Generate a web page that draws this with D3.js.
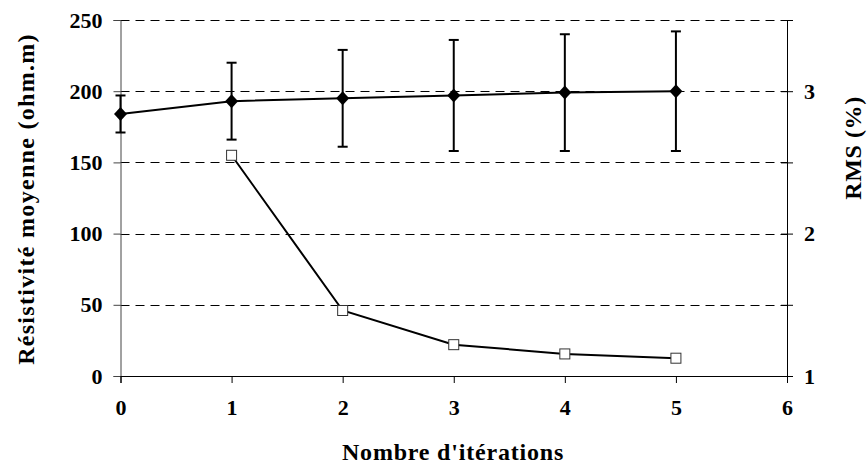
<!DOCTYPE html>
<html><head><meta charset="utf-8">
<script src="https://cdn.jsdelivr.net/npm/d3@7"></script>
<style>
html,body{margin:0;padding:0;background:#fff;}
svg text{font-family:"Liberation Serif","Times New Roman",serif;font-weight:bold;fill:#000;}
</style></head>
<body><svg id="c" width="868" height="468"></svg>
<script>
const iterations = [0, 1, 2, 3, 4, 5];
const resistivity = [184, 193, 195, 197, 199, 200];
const resError = [13, 27, 34, 39, 41, 42];
const rmsIterations = [1, 2, 3, 4, 5];
const rmsValues = [2.55, 1.46, 1.22, 1.155, 1.125];
const xTicks = [0, 1, 2, 3, 4, 5, 6];
const yLeftTicks = [0, 50, 100, 150, 200, 250];
const yRightTicks = [1, 1.5, 2, 2.5, 3, 3.5];
const yRightLabels = [1, 2, 3];

const svg = d3.select("#c");
const x = d3.scaleLinear().domain([0, 6]).range([120.5, 787]);
const yL = d3.scaleLinear().domain([0, 250]).range([376, 20]);
const yR = d3.scaleLinear().domain([1, 3.5]).range([376, 20]);

// gridlines
svg.append("g").selectAll("line").data(yLeftTicks.filter(d => d > 0)).join("line")
  .attr("x1", x(0)).attr("x2", x(6))
  .attr("y1", d => Math.round(yL(d)) + 0.5).attr("y2", d => Math.round(yL(d)) + 0.5)
  .attr("stroke", "#000").attr("stroke-width", 1).attr("stroke-dasharray", "9,6");

// left axis
const gL = svg.append("g").attr("transform", `translate(${x(0)},0)`)
  .call(d3.axisLeft(yL).tickValues(yLeftTicks).tickSize(7).tickPadding(11));
gL.select(".domain").attr("stroke", "#444");
gL.selectAll(".tick line").attr("stroke", "#444");
gL.selectAll("text").style("font-size", "22px");

// right axis
const gR = svg.append("g").attr("transform", `translate(${x(6)},0)`)
  .call(d3.axisRight(yR).tickValues(yRightTicks).tickSize(6).tickPadding(11)
    .tickFormat(d => yRightLabels.includes(d) ? d3.format("d")(d) : ""));
gR.selectAll(".tick line").attr("x1", -6);
gR.selectAll("text").style("font-size", "22px");

// bottom axis
const gB = svg.append("g").attr("transform", `translate(0,376)`)
  .call(d3.axisBottom(x).tickValues(xTicks).tickFormat(d3.format("d")).tickSize(7).tickPadding(16));
gB.selectAll("text").style("font-size", "22px");
gB.select(".domain").attr("stroke", "#000");

// error bars
const eb = svg.append("g").attr("stroke", "#000").attr("stroke-width", 2);
iterations.forEach((it, i) => {
  const cx = x(it), top = yL(resistivity[i] + resError[i]), bot = yL(resistivity[i] - resError[i]);
  eb.append("line").attr("x1", cx).attr("x2", cx).attr("y1", top).attr("y2", bot);
  eb.append("line").attr("x1", cx - 5).attr("x2", cx + 5).attr("y1", top).attr("y2", top);
  eb.append("line").attr("x1", cx - 5).attr("x2", cx + 5).attr("y1", bot).attr("y2", bot);
});

// resistivity line
svg.append("path").datum(iterations.map((it, i) => [it, resistivity[i]]))
  .attr("fill", "none").attr("stroke", "#000").attr("stroke-width", 2)
  .attr("d", d3.line().x(d => x(d[0])).y(d => yL(d[1])));
svg.append("g").selectAll("path").data(iterations.map((it, i) => [it, resistivity[i]])).join("path")
  .attr("transform", d => `translate(${x(d[0])},${yL(d[1])})`)
  .attr("d", "M0,-7L6.5,0L0,7L-6.5,0Z").attr("fill", "#000");

// RMS line
svg.append("path").datum(rmsIterations.map((it, i) => [it, rmsValues[i]]))
  .attr("fill", "none").attr("stroke", "#000").attr("stroke-width", 2)
  .attr("d", d3.line().x(d => x(d[0])).y(d => yR(d[1])));
svg.append("g").selectAll("rect").data(rmsIterations.map((it, i) => [it, rmsValues[i]])).join("rect")
  .attr("x", d => x(d[0]) - 5).attr("y", d => yR(d[1]) - 5)
  .attr("width", 10).attr("height", 10)
  .attr("fill", "#fff").attr("stroke", "#333").attr("stroke-width", 1);

// titles
svg.append("text").attr("x", 453).attr("y", 460).attr("text-anchor", "middle")
  .style("font-size", "24px").style("letter-spacing", "0.8px").text("Nombre d'itérations");
svg.append("text").attr("transform", "translate(34,199) rotate(-90)").attr("text-anchor", "middle")
  .style("font-size", "24px").style("letter-spacing", "1.3px").text("Résistivité moyenne (ohm.m)");
svg.append("text").attr("transform", "translate(861,148) rotate(-90)").attr("text-anchor", "middle")
  .style("font-size", "24px").style("letter-spacing", "0.6px").text("RMS (%)");
</script></body></html>
